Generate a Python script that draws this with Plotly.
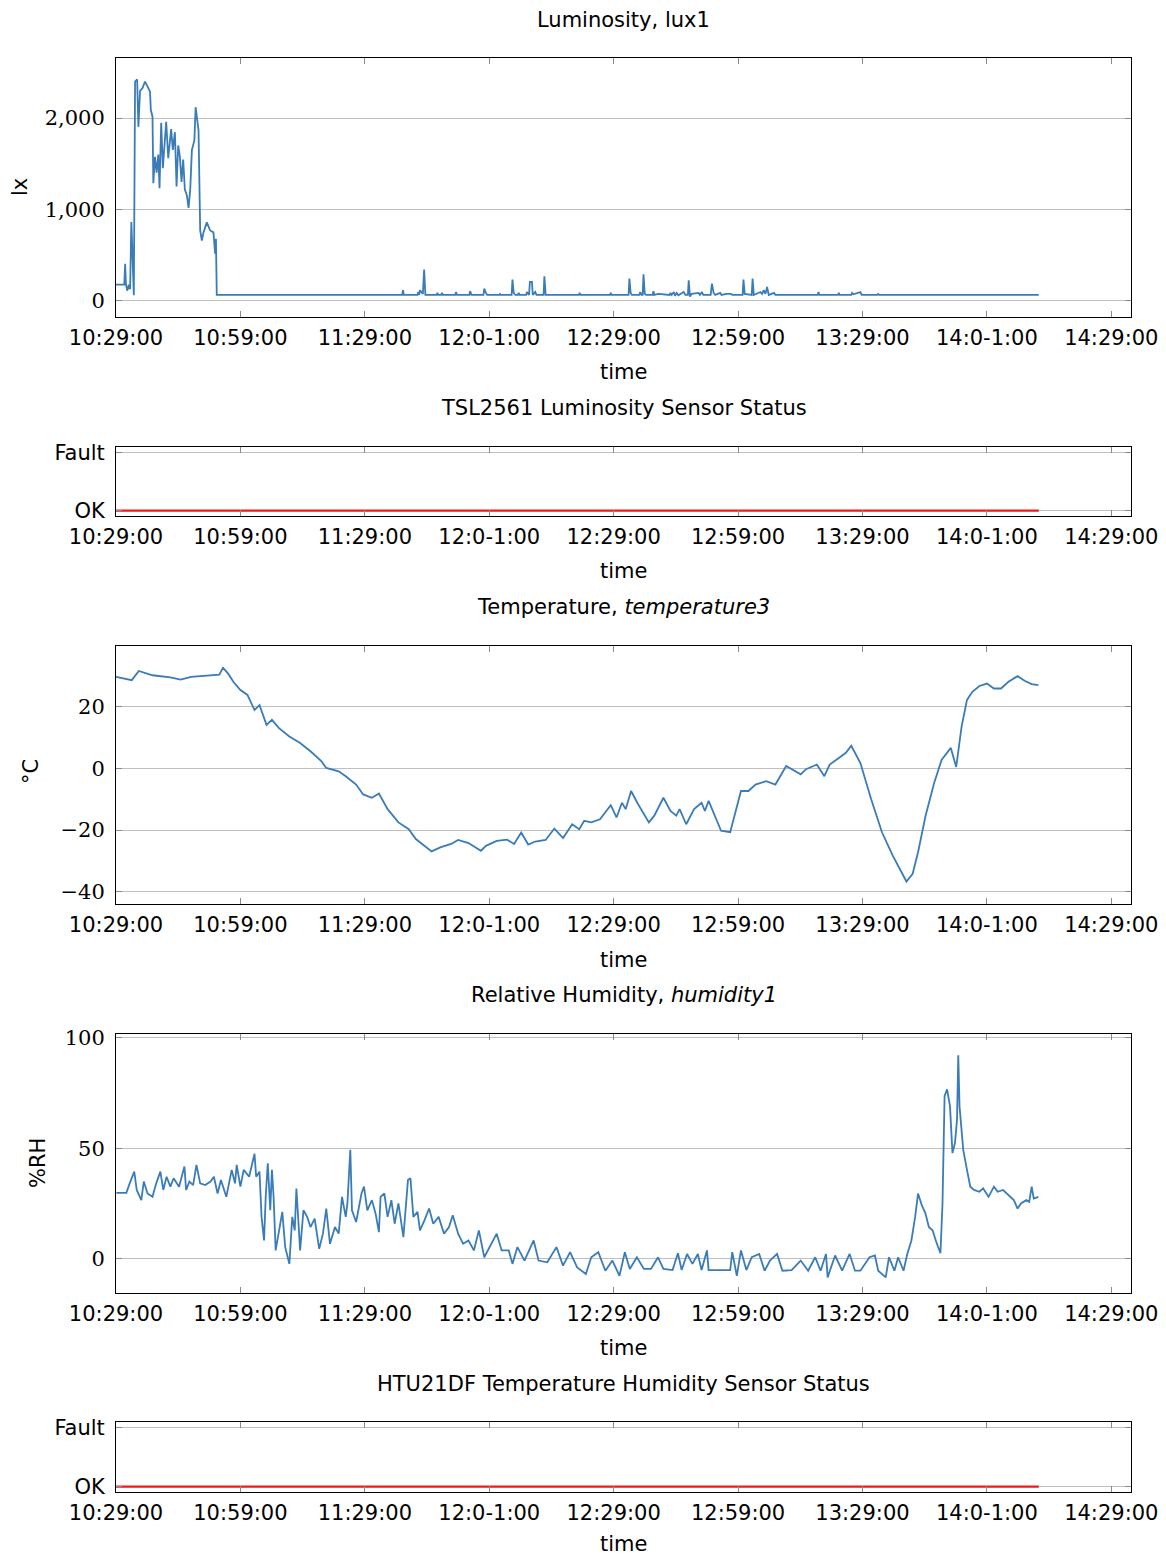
import plotly.graph_objects as go

# ---------------- data (time = minutes after 10:29:00) ----------------
tick_minutes = [0, 30, 60, 90, 120, 150, 180, 210, 240]
tick_labels = ["10:29:00", "10:59:00", "11:29:00", "12:0-1:00", "12:29:00",
               "12:59:00", "13:29:00", "14:0-1:00", "14:29:00"]

lux_t = [0, 2.0, 2.2, 2.4, 2.7, 3.1, 3.4, 3.7, 3.9, 4.3, 4.6, 5.1, 5.4, 5.8, 6.4, 7.0,
         7.8, 8.2, 8.4, 8.8, 9.0, 9.4, 9.8, 10.2, 10.5, 10.9, 11.3, 11.7, 12.1, 12.6,
         13.3, 13.7, 14.2, 14.6, 15.0, 15.4, 15.8, 16.2, 16.6, 17.1, 17.5, 17.9, 18.3,
         18.9, 19.2, 19.9, 20.3, 20.7, 21.1, 21.9, 22.7, 23.5, 23.9, 24.1, 24.3,
         69.0, 69.2, 69.4, 72.7, 72.9, 73.1, 73.3, 74.0, 74.3, 74.6, 77.3, 77.5, 77.7,
         78.4, 78.6, 78.8, 81.8, 82.0, 82.2, 85.2, 85.4, 85.7, 88.6, 88.8, 89.2, 89.5,
         92.4, 92.6, 92.8, 95.4, 95.6, 95.9, 96.3, 96.9, 97.1, 97.3, 98.9, 99.1, 99.6,
         99.8, 100.3, 100.5, 101.1, 101.4, 103.1, 103.3, 103.6, 111.6, 111.8, 112.0,
         119.1, 119.3, 119.5, 123.6, 123.8, 124.1, 124.4, 126.2, 126.4, 126.7, 127.0,
         127.2, 127.5, 127.8, 129.4, 129.6, 129.8, 130.8, 133.5, 133.7, 134.0, 134.5,
         134.8, 135.2, 135.6, 136.9, 137.3, 137.9, 138.1, 138.4, 138.8, 140.5, 140.8,
         141.3, 141.6, 143.4, 143.7, 144.1, 144.5, 145.7, 146.0, 147.2, 148.3, 148.6,
         151.1, 151.3, 151.6, 153.3, 153.5, 153.8, 155.4, 155.8, 156.2, 156.6, 157.0,
         157.4, 158.7, 159.0, 169.2, 169.4, 169.6, 174.1, 174.3, 174.5, 177.3, 177.5,
         177.8, 179.5, 179.8, 183.6, 183.8, 184.0, 222.5]
lux_v = [172, 172, 400, 180, 105, 170, 120, 860, 600, 55, 2400, 2425, 1904, 2300, 2330, 2400,
         2330, 2290, 2088, 2015, 1285, 1575, 1400, 1600, 1230, 1950, 1450, 1750, 1960, 1560,
         1880, 1650, 1845, 1250, 1700, 1580, 1300, 1545, 1215, 1150, 1015, 1215, 1650,
         1755, 2120, 1865, 766, 656, 745, 855, 766, 745, 510, 675, 58,
         58, 110, 58, 58, 90, 58, 110, 70, 337, 58, 58, 80, 58,
         58, 80, 58, 58, 90, 58, 58, 100, 58, 58, 128, 80, 58,
         58, 70, 58, 58, 227, 80, 58, 58, 80, 58, 58, 90, 58,
         201, 201, 58, 90, 58, 58, 264, 58, 58, 80, 58,
         58, 80, 58, 58, 238, 80, 58, 58, 90, 58, 58,
         286, 70, 58, 58, 100, 58, 70, 58, 80, 58, 90,
         50, 80, 55, 90, 58, 58, 220, 40, 70, 80, 58,
         90, 58, 58, 183, 80, 58, 80, 58, 70, 70, 58,
         58, 227, 70, 58, 238, 58, 90, 70, 110, 70, 146,
         58, 80, 58, 58, 90, 58, 58, 80, 58, 58, 80,
         65, 90, 58, 58, 70, 58, 58]

status_t = [0, 222.5]
lum_status = [0, 0]
htu_status = [0, 0]

temp_t = [0, 3.8, 5.5, 8.8, 13.1, 15.6, 18.1, 21.5, 24.9, 25.8, 27.0, 28.3, 30.0, 31.7,
          33.4, 34.6, 36.3, 37.6, 39.3, 41.8, 44.4, 46.9, 49.5, 50.7, 53.7, 55.4, 57.9,
          59.6, 61.7, 63.4, 65.5, 68.1, 70.6, 72.3, 74.8, 76.1, 78.2, 80.8, 82.5, 85.0,
          88.0, 89.2, 91.8, 94.3, 96.0, 97.7, 99.4, 101.1, 103.6, 105.7, 107.8, 110.0,
          111.7, 112.9, 114.6, 116.7, 119.3, 120.7, 122.0, 122.9, 124.2, 125.9, 128.5,
          129.8, 132.0, 133.7, 135.1, 135.9, 137.5, 139.4, 141.2, 142.0, 142.9, 145.9,
          148.1, 149.4, 150.7, 152.5, 154.2, 156.8, 159.0, 161.6, 163.8, 165.1, 166.4,
          169.0, 170.8, 172.1, 174.3, 176.0, 177.3, 179.5, 182.1, 184.7, 187.3, 189.0,
          190.6, 192.1, 193.4, 195.2, 197.3, 199.1, 201.3, 202.6, 203.9, 205.2, 206.5,
          208.2, 210.0, 211.7, 213.4, 215.2, 217.4, 219.1, 220.8, 222.4]
temp_v = [29.8, 28.7, 31.7, 30.3, 29.6, 28.9, 29.8, 30.1, 30.5, 32.7, 30.9, 28.2, 25.5, 23.9,
          19.0, 20.6, 14.2, 15.8, 13.1, 10.4, 8.3, 5.6, 2.4, 0.2, -0.9, -2.5, -5.2,
          -8.4, -9.5, -8.1, -13.2, -17.5, -19.7, -22.9, -25.6, -26.9, -25.6, -24.5, -23.2, -24.2,
          -26.7, -25.1, -23.5, -23.1, -24.5, -20.8, -24.7, -23.7, -23.2, -19.5, -22.6, -18.1,
          -19.7, -17.0, -17.5, -16.5, -11.9, -15.9, -11.1, -13.2, -7.3, -11.6, -17.5,
          -15.3, -9.5, -13.8, -15.3, -13.2, -18.1, -13.2, -11.1, -13.8, -10.5, -20.2,
          -20.7, -13.8, -7.3, -7.3, -5.2, -4.1, -5.2, 0.8, -0.8, -1.9, -0.2,
          1.3, -2.5, 1.3, 3.4, 5.1, 7.4, 1.8, -10.0, -20.7, -28.3, -32.6,
          -36.7, -34.2, -27.2, -15.4, -4.6, 2.9, 6.7, 0.5, 13.6, 22.3, 24.9,
          26.8, 27.6, 26.0, 26.0, 28.2, 30.0, 28.5, 27.4, 27.1]

hum_t = [0.1, 2.5, 3.3, 4.4, 5.0, 6.1, 6.7, 7.6, 8.8, 9.7, 10.7, 11.4, 12.2, 13.1, 13.9,
         15.2, 16.5, 16.9, 17.7, 18.6, 19.4, 20.3, 21.5, 22.8, 23.6, 24.5, 25.3, 26.6,
         27.9, 28.7, 29.1, 30.0, 30.8, 32.1, 33.4, 33.8, 34.6, 35.1, 35.7, 36.1, 36.6,
         37.2, 37.6, 38.0, 38.5, 39.3, 40.1, 40.8, 41.8, 42.5, 43.1, 43.5, 44.4, 45.2,
         46.1, 46.9, 47.9, 49.0, 49.9, 50.7, 51.6, 52.8, 53.7, 54.5, 55.4, 55.8, 56.5,
         56.9, 57.9, 59.2, 59.8, 60.6, 61.7, 62.6, 63.4, 63.8, 64.7, 65.5, 66.4, 67.2,
         68.1, 69.3, 70.4, 71.0, 71.7, 72.7, 73.3, 74.4, 75.5, 76.5, 77.8, 79.1, 80.3,
         81.2, 82.5, 83.7, 85.0, 86.3, 87.5, 88.8, 90.1, 91.8, 93.0, 94.7, 95.6, 96.8,
         98.5, 100.7, 101.9, 104.0, 106.2, 107.8, 109.5, 111.2, 113.3, 114.6, 116.3,
         118.0, 119.7, 121.4, 122.7, 123.9, 125.6, 127.3, 129.0, 130.7, 132.0, 134.2,
         135.5, 136.4, 137.7, 139.0, 140.3, 141.2, 142.5, 142.9, 145.5, 148.1, 148.6,
         149.7, 150.7, 152.0, 153.3, 155.1, 156.4, 157.7, 159.4, 160.7, 162.9, 165.1,
         166.9, 168.6, 169.9, 171.2, 171.6, 173.4, 175.1, 176.9, 178.2, 179.5, 181.7,
         183.0, 183.8, 185.6, 186.4, 187.7, 188.6, 189.9, 190.8, 191.8, 192.7, 193.4,
         194.3, 195.2, 196.0, 196.9, 197.8, 198.8, 199.3, 199.8, 200.4, 201.1, 201.7,
         202.3, 202.8, 203.1, 203.4, 204.3, 205.2, 206.0, 206.9, 208.2, 209.1, 210.4,
         211.7, 212.6, 213.9, 215.2, 216.5, 217.4, 218.2, 219.5, 220.2, 220.8, 221.3, 222.4]
hum_v = [29.8, 29.8, 34.1, 39.4, 31.1, 26.5, 34.9, 29.5, 28.0, 34.1, 39.4, 31.1, 37.1, 32.6, 36.4,
         32.6, 41.7, 31.1, 34.9, 33.3, 42.5, 34.1, 33.3, 34.9, 37.1, 29.5, 35.6, 28.0,
         40.2, 34.1, 42.5, 32.6, 40.2, 37.1, 47.5, 37.1, 39.4, 18.9, 8.2, 28.0, 43.2,
         21.9, 40.2, 28.0, 3.7, 12.8, 21.2, 5.2, -2.4, 18.9, 12.8, 31.8, 3.7, 21.9,
         18.9, 14.3, 18.1, 4.4, 11.3, 22.7, 6.7, 14.3, 11.3, 28.0, 18.9, 25.0, 49.3,
         21.9, 16.6, 29.5, 32.6, 21.9, 26.5, 20.4, 12.0, 28.0, 29.5, 18.9, 26.5, 15.8,
         25.0, 9.7, 35.6, 36.4, 18.9, 21.2, 12.8, 17.4, 22.7, 15.8, 18.9, 11.3, 14.3,
         19.6, 11.3, 6.7, 8.2, 3.7, 12.8, 0.6, 5.2, 11.3, 3.7, 3.7, -2.4, 5.2,
         -0.9, 8.2, -0.9, -1.7, 5.2, -3.2, 2.9, -4.0, -7.0, 0.6, 2.9,
         -5.5, -0.9, -7.8, 2.9, -4.7, 0.6, -4.7, -4.7, 0.6, -4.7, -5.2,
         2.4, -5.2, 2.1, -2.4, 2.1, -5.2, 3.7, -5.2, -5.2, -5.2, 2.9,
         -7.8, 3.7, -5.2, 0.6, 2.1, -5.5, -0.9, 2.1, -5.5, -5.2, -0.9,
         -5.5, 0.6, -5.5, 2.1, -8.5, 1.4, -5.5, 2.1, -5.5, -5.5, 0.6,
         1.4, -5.5, -8.5, 0.6, -5.5, 0.6, -5.5, 2.1, 8.2, 18.9, 29.5,
         24.2, 20.4, 14.3, 12.8, 7.5, 2.4, 25.0, 73.7, 76.7, 69.1, 47.8,
         52.4, 63.0, 92.2, 69.1, 49.3, 40.2, 32.6, 31.1, 30.3, 31.8, 28.0,
         32.6, 30.3, 31.1, 28.8, 26.5, 22.7, 25.0, 26.5, 25.7, 32.6, 27.2, 28.0]

# ---------------- layout helpers ----------------
W, H = 1166, 1557
SANS = "DejaVu Sans"
SERIF = "DejaVu Serif"
FS = 21
BLUE = "#3a7cb8"
RED = "#f01818"

def fy(px):
    return 1 - px / H

x_dom = [116 / W, 1131 / W]
panels = [  # (top px, bottom px)
    (58, 317), (447, 516), (646, 904), (1034, 1293), (1422, 1492)]

fig = go.Figure()

series = [
    (lux_t, lux_v, BLUE, 1.8),
    (status_t, lum_status, RED, 2.2),
    (temp_t, temp_v, BLUE, 1.8),
    (hum_t, hum_v, BLUE, 1.8),
    (status_t, htu_status, RED, 2.2),
]
for i, (t, v, c, w) in enumerate(series):
    n = "" if i == 0 else str(i + 1)
    fig.add_trace(go.Scatter(x=t, y=v, mode="lines", line=dict(color=c, width=w),
                             xaxis="x" + n, yaxis="y" + n, showlegend=False))

y_specs = [
    dict(range=[-184, 2660], tickvals=[0, 1000, 2000], ticktext=["0", "1,000", "2,000"], font=SERIF),
    dict(range=[-0.091, 1.096], tickvals=[0, 1], ticktext=["OK", "Fault"], font=SANS),
    dict(range=[-44.0, 39.8], tickvals=[-40, -20, 0, 20], ticktext=["\u221240", "\u221220", "0", "20"], font=SERIF),
    dict(range=[-15.6, 101.8], tickvals=[0, 50, 100], ticktext=["0", "50", "100"], font=SERIF),
    dict(range=[-0.091, 1.096], tickvals=[0, 1], ticktext=["OK", "Fault"], font=SANS),
]

layout = dict(width=W, height=H, margin=dict(l=0, r=0, t=0, b=0, autoexpand=False),
              paper_bgcolor="white", plot_bgcolor="white", showlegend=False)
for i, ((top, bot), ys) in enumerate(zip(panels, y_specs)):
    n = "" if i == 0 else str(i + 1)
    layout["xaxis" + n] = dict(
        domain=x_dom, anchor="y" + n, range=[0, 244.75], automargin=False,
        tickmode="array", tickvals=tick_minutes, ticktext=tick_labels,
        ticks="inside", ticklen=6, tickcolor="#8a8a8a", tickwidth=1,
        showline=True, linecolor="black", linewidth=1, mirror="allticks",
        showgrid=False, zeroline=False, ticklabelstandoff=2,
        tickfont=dict(family=SANS, size=FS, color="black"))
    layout["yaxis" + n] = dict(
        domain=[fy(bot), fy(top)], anchor="x" + n, range=ys["range"], automargin=False,
        tickmode="array", tickvals=ys["tickvals"], ticktext=ys["ticktext"],
        ticks="inside", ticklen=6, tickcolor="#8a8a8a", tickwidth=1,
        showline=True, linecolor="black", linewidth=1, mirror="allticks",
        showgrid=True, gridcolor="#c0c0c0", gridwidth=1, zeroline=False,
        ticklabelstandoff=6,
        tickfont=dict(family=ys["font"], size=FS, color="black"))

fig.update_layout(**layout)

cx = (x_dom[0] + x_dom[1]) / 2
titles = [("Luminosity, lux1", 20), ("TSL2561 Luminosity Sensor Status", 408),
          ("Temperature, <i>temperature3</i>", 607),
          ("Relative Humidity, <i>humidity1</i>", 995),
          ("HTU21DF Temperature Humidity Sensor Status", 1384)]
for txt, ypx in titles:
    fig.add_annotation(text=txt, x=cx, y=fy(ypx), xref="paper", yref="paper",
                       showarrow=False, xanchor="center", yanchor="middle",
                       font=dict(family=SANS, size=FS, color="black"))
for ypx in [372, 571, 960, 1348, 1544]:
    fig.add_annotation(text="time", x=cx, y=fy(ypx), xref="paper", yref="paper",
                       showarrow=False, xanchor="center", yanchor="middle",
                       font=dict(family=SANS, size=FS, color="black"))
for txt, xpx, ypx in [("lx", 20, 187), ("°C", 31, 772), ("%RH", 38, 1163)]:
    fig.add_annotation(text=txt, x=xpx / W, y=fy(ypx), xref="paper", yref="paper",
                       showarrow=False, xanchor="center", yanchor="middle", textangle=-90,
                       font=dict(family=SANS, size=FS, color="black"))

fig.write_html("out.html")
